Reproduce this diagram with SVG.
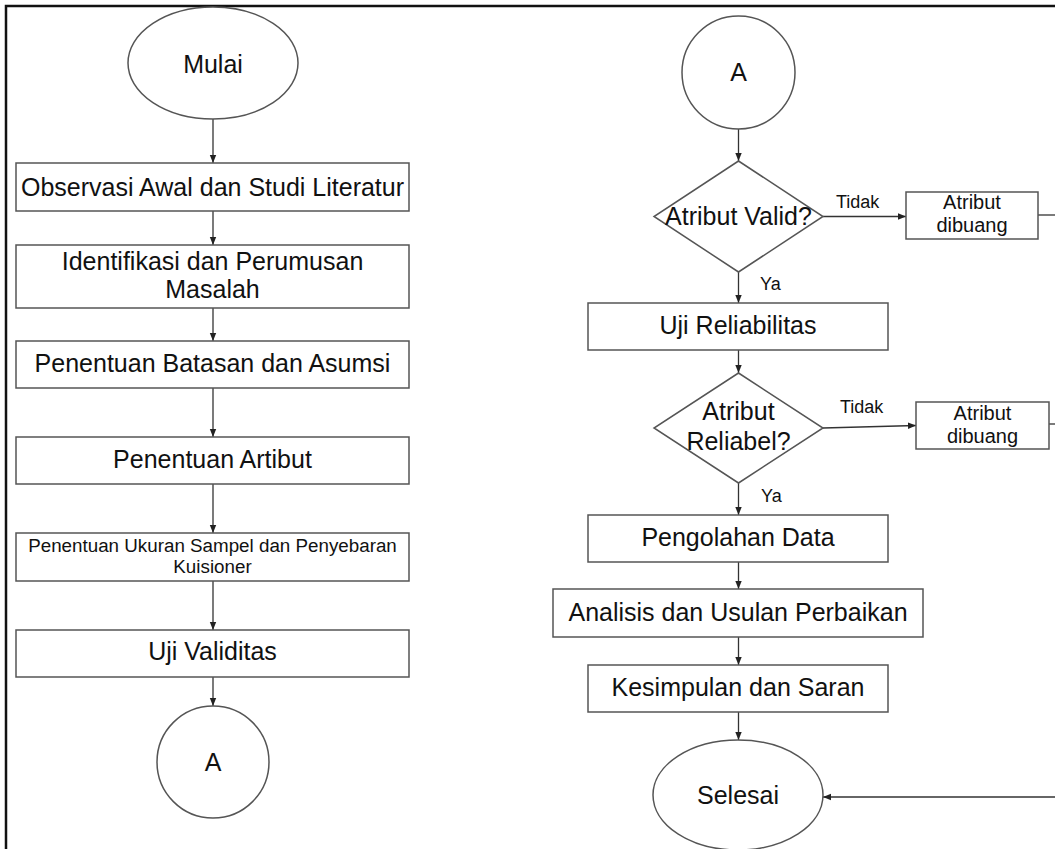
<svg xmlns="http://www.w3.org/2000/svg" width="1055" height="849" viewBox="0 0 1055 849">
<style>
.s{fill:#fff;stroke:#555;stroke-width:1.5}
.t{font-family:"Liberation Sans",Arial,sans-serif;font-size:25px;fill:#111;text-anchor:middle}
.m{font-size:20px}
.u{font-size:18.8px}
.k{font-family:"Liberation Sans",Arial,sans-serif;font-size:18px;fill:#111}
.c{fill:none;stroke:#333;stroke-width:1.3}
</style>
<defs>
<marker id="ah" markerWidth="8" markerHeight="8" refX="8" refY="4" orient="auto" markerUnits="userSpaceOnUse">
<path d="M0,0.8 L8,4 L0,7.2 Z" fill="#222"/>
</marker>
</defs>
<rect x="0" y="0" width="1055" height="849" fill="#fff"/>
<path d="M6,849 V6 H1055" fill="none" stroke="#111" stroke-width="2.5"/>

<g id="connectors">
<path class="c" d="M213,119 V163" marker-end="url(#ah)"/>
<path class="c" d="M213,211 V245" marker-end="url(#ah)"/>
<path class="c" d="M213,308 V341" marker-end="url(#ah)"/>
<path class="c" d="M213,388 V437" marker-end="url(#ah)"/>
<path class="c" d="M213,484 V533" marker-end="url(#ah)"/>
<path class="c" d="M213,581 V630" marker-end="url(#ah)"/>
<path class="c" d="M213,677 V706" marker-end="url(#ah)"/>
<path class="c" d="M738.5,129 V161" marker-end="url(#ah)"/>
<path class="c" d="M823,216.5 H906" marker-end="url(#ah)"/>
<path class="c" d="M1038,215 H1056"/>
<path class="c" d="M738.5,272 V303" marker-end="url(#ah)"/>
<path class="c" d="M738.5,350 V373" marker-end="url(#ah)"/>
<path class="c" d="M823,428 L916,425.5" marker-end="url(#ah)"/>
<path class="c" d="M1049,424 H1056"/>
<path class="c" d="M738.5,483 V515" marker-end="url(#ah)"/>
<path class="c" d="M738.5,562 V589" marker-end="url(#ah)"/>
<path class="c" d="M738.5,637 V665" marker-end="url(#ah)"/>
<path class="c" d="M738.5,712 V740" marker-end="url(#ah)"/>
<path class="c" d="M1056,797 H823" marker-end="url(#ah)"/>
<text class="k" x="836" y="208">Tidak</text>
<text class="k" x="760" y="290">Ya</text>
<text class="k" x="840" y="413">Tidak</text>
<text class="k" x="761" y="502">Ya</text>
</g>

<g id="mulai"><ellipse class="s" cx="213" cy="63" rx="85" ry="56"/><text class="t" x="213" y="73">Mulai</text></g>
<g id="observasi"><rect class="s" x="16" y="163" width="393" height="48"/><text class="t" x="212.5" y="196">Observasi Awal dan Studi Literatur</text></g>
<g id="identifikasi"><rect class="s" x="16" y="245" width="393" height="63"/><text class="t" x="212.5" y="270">Identifikasi dan Perumusan</text><text class="t" x="212.5" y="298">Masalah</text></g>
<g id="batasan"><rect class="s" x="16" y="341" width="393" height="47"/><text class="t" x="212.5" y="372">Penentuan Batasan dan Asumsi</text></g>
<g id="artibut"><rect class="s" x="16" y="437" width="393" height="47"/><text class="t" x="212.5" y="468">Penentuan Artibut</text></g>
<g id="ukuran"><rect class="s" x="16" y="533" width="393" height="48"/><text class="t u" x="212.5" y="552">Penentuan Ukuran Sampel dan Penyebaran</text><text class="t u" x="212.5" y="573">Kuisioner</text></g>
<g id="validitas"><rect class="s" x="16" y="630" width="393" height="47"/><text class="t" x="212.5" y="660">Uji Validitas</text></g>
<g id="a-left"><circle class="s" cx="213" cy="762" r="56"/><text class="t" x="213" y="771">A</text></g>

<g id="a-right"><circle class="s" cx="738.5" cy="72.5" r="56.5"/><text class="t" x="738.5" y="81">A</text></g>
<g id="valid"><polygon class="s" points="738.5,161 823,216.5 738.5,272 654,216.5"/><text class="t" x="738.5" y="225">Atribut Valid?</text></g>
<g id="dibuang1"><rect class="s" x="906" y="192" width="132" height="47"/><text class="t m" x="972" y="209">Atribut</text><text class="t m" x="972" y="232">dibuang</text></g>
<g id="reliabilitas"><rect class="s" x="588" y="303" width="300" height="47"/><text class="t" x="738" y="334">Uji Reliabilitas</text></g>
<g id="reliabel"><polygon class="s" points="738.5,373 823,428 738.5,483 654,428"/><text class="t" x="738.5" y="420">Atribut</text><text class="t" x="738.5" y="450">Reliabel?</text></g>
<g id="dibuang2"><rect class="s" x="916" y="402" width="133" height="47"/><text class="t m" x="982.5" y="420">Atribut</text><text class="t m" x="982.5" y="443">dibuang</text></g>
<g id="pengolahan"><rect class="s" x="588" y="515" width="300" height="47"/><text class="t" x="738" y="546">Pengolahan Data</text></g>
<g id="analisis"><rect class="s" x="553" y="589" width="370" height="48"/><text class="t" x="738" y="621">Analisis dan Usulan Perbaikan</text></g>
<g id="kesimpulan"><rect class="s" x="588" y="665" width="300" height="47"/><text class="t" x="738" y="696">Kesimpulan dan Saran</text></g>
<g id="selesai"><ellipse class="s" cx="738" cy="795" rx="85" ry="55"/><text class="t" x="738" y="804">Selesai</text></g>
</svg>
